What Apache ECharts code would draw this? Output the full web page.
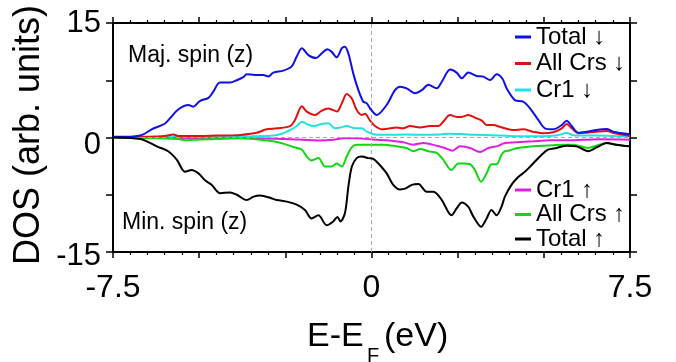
<!DOCTYPE html>
<html>
<head>
<meta charset="utf-8">
<script src="https://cdn.jsdelivr.net/npm/echarts@6/dist/echarts.min.js"></script>
<style>
  html, body { margin: 0; padding: 0; background: #fff; }
  #main { width: 676px; height: 362px; }
</style>
</head>
<body>
<div id="main"></div>
<script>
// [E - E_F (eV), DOS] pairs
var totalDn = [[-7.5,0.1],[-7.0,0.1],[-6.8,0.2],[-6.62,0.4],[-6.38,1.07],[-6.0,1.8],[-5.85,2.5],[-5.6,3.7],[-5.31,4.26],[-5.17,4.04],[-4.98,4.78],[-4.73,5.2],[-4.59,6.0],[-4.4,7.2],[-4.1,7.2],[-3.91,7.5],[-3.72,7.9],[-3.62,8.3],[-3.38,8.2],[-3.14,8.2],[-2.99,8.0],[-2.85,8.5],[-2.56,8.76],[-2.32,9.28],[-2.17,10.6],[-2.02,11.7],[-1.83,10.8],[-1.61,10.4],[-1.45,11.0],[-1.28,11.56],[-1.16,11.25],[-1.01,10.5],[-0.86,11.7],[-0.77,11.9],[-0.67,11.0],[-0.53,8.4],[-0.38,6.2],[-0.24,4.7],[-0.14,4.5],[-0.04,3.8],[0.15,2.95],[0.44,4.26],[0.68,6.2],[0.83,6.66],[1.02,6.44],[1.26,5.8],[1.46,6.2],[1.65,6.9],[1.89,6.44],[2.04,7.3],[2.28,8.9],[2.47,8.5],[2.62,7.75],[2.81,8.5],[3.05,8.06],[3.24,7.97],[3.44,7.54],[3.63,8.28],[3.8,7.7],[3.92,6.44],[4.16,4.9],[4.4,4.7],[4.6,3.83],[4.84,2.3],[5.03,1.2],[5.27,1.07],[5.52,1.64],[5.66,2.2],[5.81,1.5],[6.0,0.63],[6.24,0.76],[6.53,0.98],[6.82,1.1],[7.01,0.76],[7.5,0.42]];
var allCrsDn = [[-7.5,0.05],[-6.5,0.1],[-6.0,0.2],[-5.75,0.4],[-5.6,0.2],[-5.0,0.2],[-4.5,0.25],[-4.0,0.3],[-3.81,0.33],[-3.33,0.63],[-3.04,1.07],[-2.75,1.2],[-2.36,1.5],[-2.22,2.3],[-2.02,4.1],[-1.88,3.38],[-1.64,2.95],[-1.45,3.5],[-1.25,3.8],[-1.0,3.4],[-0.86,4.5],[-0.72,5.7],[-0.57,5.1],[-0.43,3.6],[-0.28,2.95],[-0.19,3.1],[-0.04,2.2],[0.1,1.5],[0.3,1.07],[0.54,1.2],[0.73,1.3],[0.92,1.2],[1.12,1.5],[1.41,1.3],[1.7,1.5],[1.94,1.5],[2.08,2.07],[2.28,2.95],[2.47,2.7],[2.62,2.7],[2.81,2.95],[3.0,2.6],[3.2,2.2],[3.34,1.64],[3.53,1.64],[3.73,1.4],[3.87,1.2],[4.11,0.98],[4.4,1.07],[4.69,0.76],[4.98,0.55],[5.27,0.68],[5.52,1.2],[5.66,1.77],[5.81,1.2],[6.0,0.55],[6.24,0.63],[6.53,0.76],[6.82,0.85],[7.06,0.55],[7.5,0.2]];
var cr1Dn = [[-7.5,0.05],[-5,0.1],[-3.5,0.15],[-2.85,0.25],[-2.56,0.55],[-2.32,1.07],[-2.17,1.5],[-2.02,2.07],[-1.88,1.77],[-1.67,1.5],[-1.45,1.77],[-1.25,1.86],[-1.06,1.2],[-0.9,1.3],[-0.72,1.5],[-0.48,1.2],[-0.28,1.2],[-0.14,0.76],[0.1,0.4],[0.5,0.35],[1.0,0.4],[1.5,0.35],[2.0,0.4],[2.28,0.5],[2.6,0.45],[3.0,0.35],[3.5,0.3],[4.0,0.2],[4.5,0.15],[5.0,0.15],[5.4,0.3],[5.66,0.6],[5.9,0.25],[6.5,0.25],[7.0,0.2],[7.5,0.1]];
var cr1Up = [[-7.5,0],[-6,-0.05],[-5,-0.1],[-3.8,-0.05],[-2.5,-0.2],[-2,-0.3],[-1.7,-0.37],[-1.5,-0.4],[-1.1,-0.3],[-0.8,-0.1],[-0.4,-0.1],[-0.04,-0.24],[0.44,-0.37],[0.92,-0.63],[1.21,-0.94],[1.5,-0.72],[1.89,-1.07],[2.13,-1.37],[2.35,-1.72],[2.57,-1.16],[2.86,-1.37],[3.15,-1.9],[3.39,-1.37],[3.63,-1.16],[3.87,-0.72],[4.2,-0.63],[4.69,-0.5],[5.17,-0.37],[5.66,-0.37],[6.15,-0.3],[6.63,-0.24],[7.5,-0.3]];
var allCrsUp = [[-7.5,0],[-6.5,-0.05],[-5.6,-0.2],[-5.36,-0.37],[-5.0,-0.25],[-4.5,-0.2],[-3.81,-0.1],[-3.23,-0.3],[-2.85,-0.5],[-2.56,-0.8],[-2.27,-1.25],[-2.02,-1.6],[-1.88,-2.5],[-1.74,-3.0],[-1.54,-2.7],[-1.35,-3.8],[-1.16,-3.8],[-1.01,-3.4],[-0.86,-3.8],[-0.72,-2.5],[-0.57,-1.25],[-0.43,-0.94],[-0.14,-0.94],[0.1,-0.94],[0.35,-0.94],[0.73,-1.16],[1.02,-1.37],[1.21,-1.8],[1.41,-1.5],[1.65,-1.8],[1.89,-2.0],[2.08,-2.9],[2.32,-4.26],[2.52,-3.4],[2.71,-3.4],[2.86,-3.5],[3.0,-4.26],[3.18,-5.8],[3.34,-4.7],[3.48,-3.5],[3.63,-3.5],[3.77,-2.3],[3.87,-1.8],[4.01,-1.7],[4.2,-1.4],[4.5,-1.25],[4.69,-1.16],[4.98,-1.07],[5.27,-1.0],[5.56,-0.94],[5.85,-0.94],[6.29,-1.37],[6.53,-1.07],[6.82,-0.72],[7.1,-0.94],[7.5,-1.16]];
var totalUp = [[-7.5,0],[-7.0,-0.05],[-6.7,-0.2],[-6.52,-0.5],[-6.23,-1.16],[-5.9,-1.8],[-5.65,-2.9],[-5.41,-4.48],[-5.22,-4.26],[-5.02,-4.7],[-4.83,-5.6],[-4.64,-6.2],[-4.39,-7.3],[-4.1,-7.2],[-3.91,-7.5],[-3.62,-8.2],[-3.42,-7.75],[-3.23,-7.6],[-2.94,-7.9],[-2.75,-8.2],[-2.46,-8.4],[-2.17,-8.8],[-1.93,-9.5],[-1.74,-10.6],[-1.54,-10.2],[-1.30,-11.5],[-1.11,-11.0],[-0.99,-10.4],[-0.9,-11.0],[-0.77,-9.9],[-0.67,-6.4],[-0.57,-3.8],[-0.43,-2.7],[-0.28,-2.5],[-0.09,-2.7],[0.05,-2.8],[0.2,-3.4],[0.44,-4.7],[0.63,-6.2],[0.83,-6.8],[0.97,-6.7],[1.17,-6.2],[1.36,-6.1],[1.6,-7.1],[1.8,-7.1],[2.04,-8.2],[2.32,-10.2],[2.47,-9.3],[2.62,-8.5],[2.81,-9.1],[2.96,-10.4],[3.18,-11.7],[3.34,-10.6],[3.48,-9.5],[3.63,-10.2],[3.77,-9.1],[3.87,-7.75],[4.06,-6.2],[4.25,-5.2],[4.45,-4.5],[4.69,-3.4],[4.93,-2.3],[5.12,-1.6],[5.37,-1.37],[5.66,-1.07],[5.95,-1.16],[6.29,-1.8],[6.53,-1.3],[6.82,-0.72],[7.1,-0.94],[7.5,-1.16]];

var xLabels = ['-7.5', '0', '7.5'];
var yLabels = ['-15', '0', '15'];
var namesDn = ['Total \u2193', 'All Crs \u2193', 'Cr1 \u2193'];
var namesUp = ['Cr1 \u2191', 'All Crs \u2191', 'Total \u2191'];

var font = 'Liberation Sans, Arial, Helvetica, sans-serif';
var chart = echarts.init(document.getElementById('main'));

function line(name, data, color, z) {
    return {
        name: name,
        type: 'line',
        data: data,
        smooth: 0.3,
        symbol: 'none',
        z: z,
        color: color,
        itemStyle: { color: color },
        lineStyle: { color: color, width: 2 }
    };
}

var frameLine = { show: true, onZero: false, lineStyle: { color: '#000', width: 2 } };

var option = {
    animation: false,
    backgroundColor: '#fff',
    textStyle: { fontFamily: font },
    grid: { left: 113, right: 46, top: 23, bottom: 110 },
    legend: [
        {
            data: namesDn,
            orient: 'vertical',
            left: 515, top: 25, padding: 0,
            icon: 'rect', itemWidth: 16, itemHeight: 3, itemGap: 2.5,
            textStyle: { fontSize: 24, color: '#000', fontFamily: font }
        },
        {
            data: namesUp,
            orient: 'vertical',
            left: 515, top: 178, padding: 0,
            icon: 'rect', itemWidth: 16, itemHeight: 3, itemGap: 0.5,
            textStyle: { fontSize: 24, color: '#000', fontFamily: font }
        }
    ],
    xAxis: [
        {
            type: 'value', min: -7.5, max: 7.5, interval: 2.5,
            axisLine: frameLine,
            axisTick: { show: true, length: 6, lineStyle: { color: '#000', width: 1.5 } },
            minorTick: { show: true, splitNumber: 5, length: 3, lineStyle: { color: '#000', width: 1.2 } },
            splitLine: { show: false },
            axisLabel: {
                margin: 20, fontSize: 32, color: '#000', fontFamily: font,
                showMinLabel: true, showMaxLabel: true, hideOverlap: false,
                formatter: function (v) {
                    var s = String(v);
                    return xLabels.indexOf(s) >= 0 ? s : '';
                }
            }
        },
        {
            type: 'value', position: 'top', min: -7.5, max: 7.5, interval: 2.5,
            axisLine: frameLine,
            axisTick: { show: true, length: 6, lineStyle: { color: '#000', width: 1.5 } },
            minorTick: { show: true, splitNumber: 5, length: 3, lineStyle: { color: '#000', width: 1.2 } },
            splitLine: { show: false },
            axisLabel: { show: false }
        }
    ],
    yAxis: [
        {
            type: 'value', min: -15, max: 15, interval: 7.5,
            axisLine: frameLine,
            axisTick: { show: true, length: 7, lineStyle: { color: '#000', width: 1.5 } },
            splitLine: { show: false },
            axisLabel: {
                margin: 12, fontSize: 31, color: '#000', fontFamily: font,
                showMinLabel: true, showMaxLabel: true, hideOverlap: false,
                formatter: function (v) {
                    var s = String(v);
                    if (yLabels.indexOf(s) < 0) return '';
                    if (s === '0') return '{mid|' + s + '}';
                    if (s === '-15') return '{low|' + s + '}';
                    return s;
                },
                rich: {
                    mid: { fontSize: 31, color: '#000', fontFamily: font, padding: [16, 0, 0, 0] },
                    low: { fontSize: 31, color: '#000', fontFamily: font, padding: [8, 0, 0, 0] }
                }
            }
        },
        {
            type: 'value', position: 'right', min: -15, max: 15, interval: 7.5,
            axisLine: frameLine,
            axisTick: { show: true, length: 7, lineStyle: { color: '#000', width: 1.5 } },
            splitLine: { show: false },
            axisLabel: { show: false }
        }
    ],
    graphic: [
        { type: 'text', left: 128, top: 44, style: { text: 'Maj. spin (z)', font: '23px ' + font, fill: '#000' } },
        { type: 'text', left: 122, top: 211, style: { text: 'Min. spin (z)', font: '23px ' + font, fill: '#000' } },
        {
            type: 'text', x: 29, y: 135, rotation: Math.PI / 2,
            style: { text: 'DOS (arb. units)', font: '36px ' + font, fill: '#000', align: 'center', verticalAlign: 'middle' }
        },
        { type: 'text', left: 307, top: 320, style: { text: 'E-E', font: '34px ' + font, fill: '#000' } },
        { type: 'text', left: 367, top: 346, style: { text: 'F', font: '20px ' + font, fill: '#000' } },
        { type: 'text', left: 384, top: 320, style: { text: '(eV)', font: '34px ' + font, fill: '#000' } }
    ],
    series: [
        {
            type: 'line', data: [], silent: true, z: 1,
            markLine: {
                silent: true, symbol: ['none', 'none'],
                label: { show: false },
                lineStyle: { color: '#aaa', type: [4, 3], width: 1 },
                data: [{ xAxis: 0 }, { yAxis: 0 }]
            }
        },
        line(namesDn[2], cr1Dn, '#22e0e6', 3),
        line(namesUp[0], cr1Up, '#e020e0', 3),
        line(namesDn[1], allCrsDn, '#e41010', 4),
        line(namesUp[1], allCrsUp, '#10d810', 4),
        line(namesDn[0], totalDn, '#1010e8', 5),
        line(namesUp[2], totalUp, '#000000', 5)
    ]
};
chart.setOption(option);
</script>
</body>
</html>
